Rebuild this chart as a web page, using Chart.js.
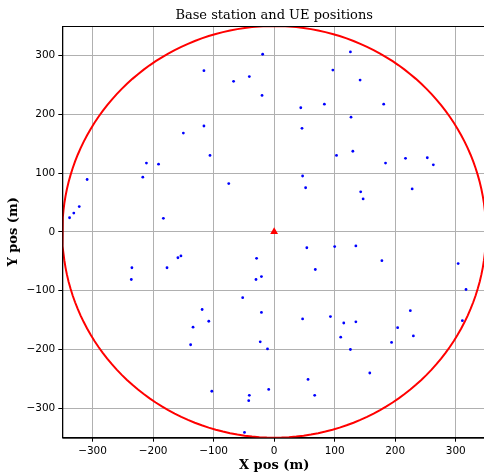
<!DOCTYPE html>
<html>
<head>
<meta charset="utf-8">
<script src="https://cdn.jsdelivr.net/npm/chart.js@4.4.0/dist/chart.umd.min.js"></script>
<style>
  html, body { margin: 0; padding: 0; overflow: hidden; background: #fff; }
  canvas { display: block; }
</style>
</head>
<body>
<canvas id="posChart" width="486" height="473"></canvas>
<script>
// UE positions (m)
const ueX = [-19, -116, -67, -41, -20, -116, -150, -106, -211, -191, -217, -309, -75, -322, -331, -338, -183,
             126, 97, 142, 44, 83, 181, 127, 46, 103, 130, 184, 217, 253, 263, 47, 52, 143, 147, 228,
             304, 317, 311, 225, 230,
             -235, -236, -177, -159, -154, -29, -30, -21, -52, -21, -119, -108, -134, -138, -23, -11, -103, -9, -41, -42, -49,
             54, 100, 135, 68, 178, 47, 93, 115, 135, 110, 126, 204, 194, 158, 56, 67];
const ueY = [302, 274, 256, 264, 232, 180, 168, 130, 117, 115, 93, 89, 82, 43, 32, 24, 23,
             306, 275, 258, 211, 217, 217, 195, 176, 130, 137, 117, 125, 126, 114, 95, 75, 68, 56, 73,
             -54, -98, -151, -134, -177,
             -61, -81, -61, -44, -41, -45, -81, -76, -112, -137, -132, -152, -162, -192, -187, -199, -271, -268, -278, -287, -341,
             -27, -25, -24, -64, -49, -148, -144, -155, -153, -179, -200, -163, -188, -240, -251, -278];

// base station
const bsX = [0];
const bsY = [0];

// cell edge
const cellRadius = 350;

const axisTicks = [-300, -200, -100, 0, 100, 200, 300];
const axisMin = -350;
const axisMax = 350;

const uePoints = ueX.map((x, i) => ({ x: x, y: ueY[i] }));
const bsPoints = bsX.map((x, i) => ({ x: x, y: bsY[i] }));
const circlePoints = [];
for (let a = 0; a <= 360; a += 2) {
    const t = a * Math.PI / 180;
    circlePoints.push({ x: bsX[0] + cellRadius * Math.cos(t), y: bsY[0] + cellRadius * Math.sin(t) });
}

const tickLabel = v => v < 0 ? '\u2212' + Math.abs(v) : String(v);

// top / right spines
const framePlugin = {
    id: 'frame',
    afterDatasetsDraw(chart) {
        const { ctx, chartArea } = chart;
        ctx.save();
        ctx.strokeStyle = '#000';
        ctx.lineWidth = 1;
        ctx.strokeRect(chartArea.left + 0.5, chartArea.top + 0.5,
            chartArea.right - chartArea.left, chartArea.bottom - chartArea.top);
        ctx.restore();
    }
};

const gridOpts = {
    color: '#b0b0b0',
    lineWidth: 1,
    tickColor: '#000',
    tickLength: 4,
    drawTicks: true
};

new Chart(document.getElementById('posChart'), {
    type: 'scatter',
    data: {
        datasets: [
            {
                label: 'Cell edge',
                data: circlePoints,
                showLine: true,
                borderColor: '#ff0000',
                borderWidth: 2,
                pointRadius: 0,
                fill: false
            },
            {
                label: 'UE',
                data: uePoints,
                backgroundColor: '#0000ff',
                borderColor: '#0000ff',
                borderWidth: 0,
                pointRadius: 1.4
            },
            {
                label: 'BS',
                data: bsPoints,
                pointStyle: 'triangle',
                backgroundColor: '#ff0000',
                borderColor: '#ff0000',
                borderWidth: 0,
                pointRadius: 4.5
            }
        ]
    },
    options: {
        responsive: false,
        animation: false,
        devicePixelRatio: 1,
        layout: { padding: 0, autoPadding: false },
        plugins: {
            legend: { display: false },
            tooltip: { enabled: false },
            title: {
                display: true,
                fullSize: false,
                text: 'Base station and UE positions',
                color: '#000',
                font: { family: 'DejaVu Serif', size: 13, weight: 'normal' },
                padding: { top: 8, bottom: 2.4 }
            }
        },
        scales: {
            x: {
                type: 'linear',
                min: axisMin,
                max: axisMax,
                afterBuildTicks: axis => { axis.ticks = axisTicks.map(v => ({ value: v })); },
                afterFit: s => { s.height = 35.3; s.paddingLeft = 0; s.paddingRight = 0; },
                grid: gridOpts,
                border: { color: '#000', width: 1 },
                ticks: {
                    callback: tickLabel,
                    color: '#000',
                    padding: 3,
                    maxRotation: 0,
                    font: { family: 'DejaVu Sans', size: 10.5 }
                },
                title: {
                    display: true,
                    text: 'X pos (m)',
                    color: '#000',
                    font: { family: 'DejaVu Serif', size: 13, weight: 'bold' },
                    padding: { top: 0, bottom: 0 }
                }
            },
            y: {
                type: 'linear',
                min: axisMin,
                max: axisMax,
                afterBuildTicks: axis => { axis.ticks = axisTicks.map(v => ({ value: v })); },
                afterFit: s => { s.width = 62.3; s.paddingTop = 0; s.paddingBottom = 0; },
                grid: gridOpts,
                border: { color: '#000', width: 1 },
                ticks: {
                    callback: tickLabel,
                    color: '#000',
                    padding: 3,
                    font: { family: 'DejaVu Sans', size: 10.5 }
                },
                title: {
                    display: true,
                    text: 'Y pos (m)',
                    color: '#000',
                    font: { family: 'DejaVu Serif', size: 13, weight: 'bold' },
                    padding: { top: 6, bottom: 0 }
                }
            }
        }
    },
    plugins: [framePlugin]
});
</script>
</body>
</html>
